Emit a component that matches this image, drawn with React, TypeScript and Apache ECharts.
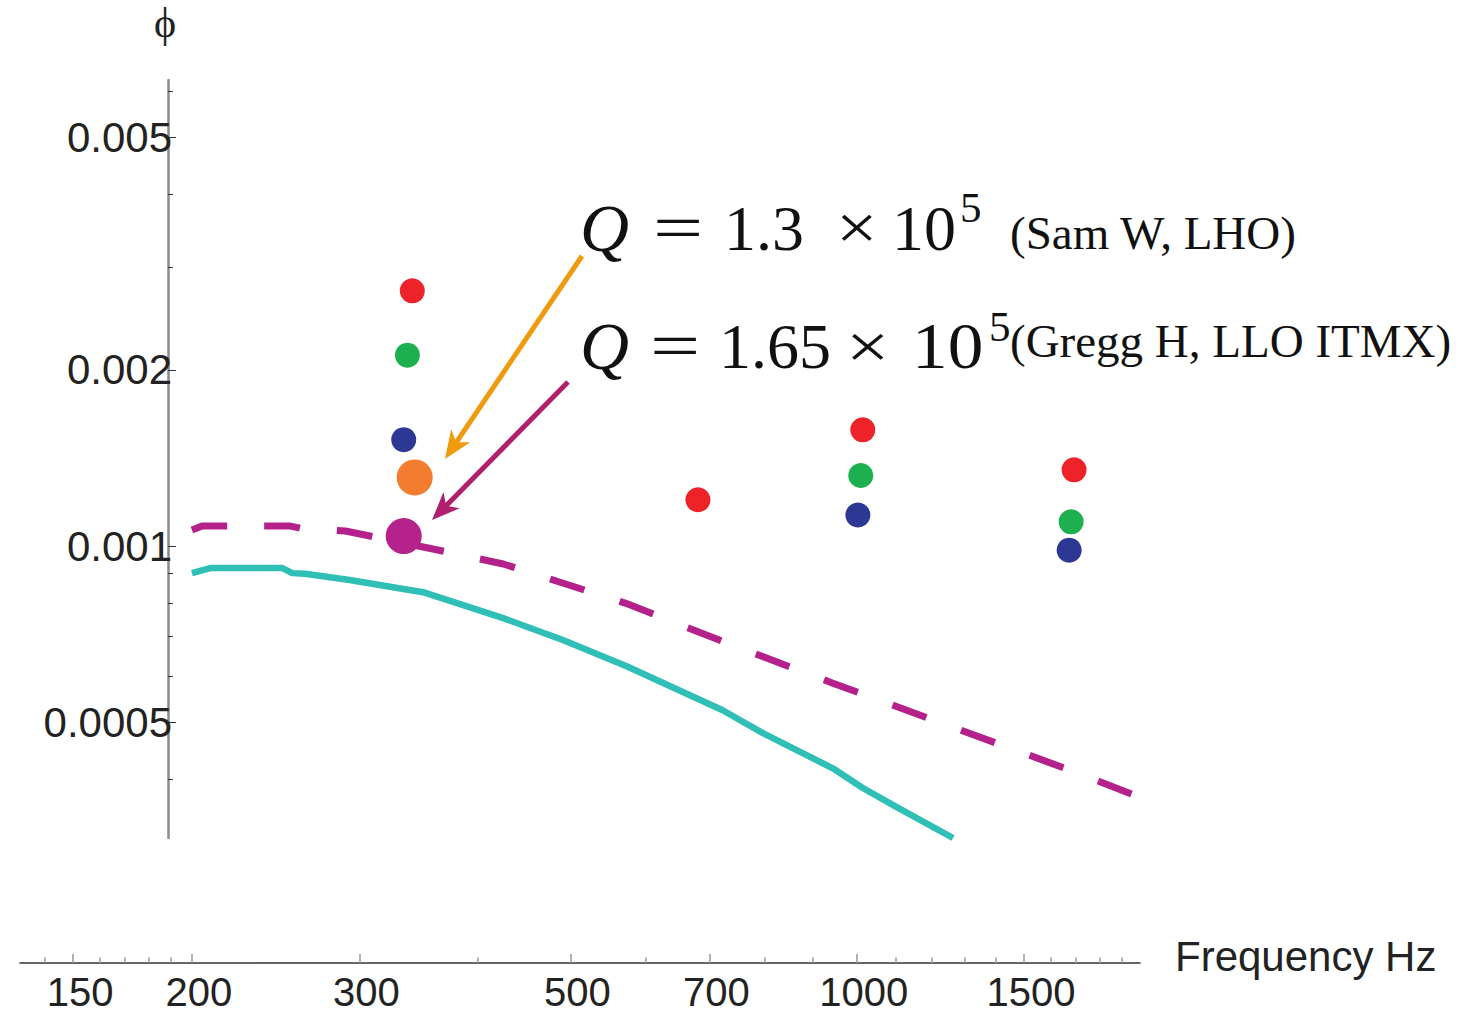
import React, { useEffect, useRef } from "react";
import * as echarts from "echarts";

// ---- data (raw units: Hz, loss angle phi) ----
const solidFreq = [200, 209, 249, 255, 263, 293, 350, 425, 491, 573, 723, 797, 944, 1015, 1102, 1263];
const solidPhi = [0.000899, 0.000917, 0.000917, 0.000899, 0.000897, 0.000875, 0.000834, 0.000753, 0.000691, 0.000623, 0.000524, 0.000479, 0.000417, 0.000386, 0.000358, 0.000317];

const dashedFreq = [200, 205, 254, 260, 290, 297, 371, 425, 571, 730, 944, 1697, 1986];
const dashedPhi = [0.001065, 0.001082, 0.001082, 0.001073, 0.001061, 0.001053, 0.000977, 0.000932, 0.000799, 0.000683, 0.000583, 0.000411, 0.000372];

const redFreq = [341, 681, 1015, 1693];
const redPhi = [0.00273, 0.0012, 0.00158, 0.00135];
const greenFreq = [337, 1010, 1681];
const greenPhi = [0.00212, 0.00132, 0.0011];
const blueFreq = [334, 1003, 1673];
const bluePhi = [0.00152, 0.00113, 0.000984];
const orangeFreq = [343];
const orangePhi = [0.00131];
const magentaFreq = [334];
const magentaPhi = [0.00104];

// ---- axes ----
const xRange = [131.9, 1986];
const xRangeYAxisAt = 188.8;
const yRange = [0.000317, 0.00626];
const xMajorTicks = [150, 200, 300, 500, 700, 1000, 1500];
const xTickLabels = ["150", "200", "300", "500", "700", "1000", "1500"];
const xMinorTicks = [140, 160, 170, 180, 190, 400, 600, 800, 900, 1100, 1200, 1300, 1400, 1600, 1700, 1800, 1900];
const yMajorTicks = [0.0005, 0.001, 0.002, 0.005];
const yTickLabels = ["0.0005", "0.001", "0.002", "0.005"];
const yMinorTicks = [0.0004, 0.0006, 0.0007, 0.0008, 0.0009, 0.003, 0.004, 0.006];

const L = Math.log10;
const toPts = (xs: number[], ys: number[]) => xs.map((x, i) => [L(x), L(ys[i])]);
const nearestLabel = (v: number, ticks: number[], labels: string[]) => {
  let best = 0;
  let bd = Infinity;
  ticks.forEach((t, i) => {
    const d = Math.abs(L(t) - v);
    if (d < bd) {
      bd = d;
      best = i;
    }
  });
  return labels[best];
};

const SANS = "'Liberation Sans', Arial, Helvetica, sans-serif";
const SERIF = "'Liberation Serif', 'Times New Roman', 'DejaVu Serif', serif";

function arrow(x1: number, y1: number, x2: number, y2: number, color: string) {
  const dx = x2 - x1;
  const dy = y2 - y1;
  const len = Math.hypot(dx, dy);
  const ux = dx / len;
  const uy = dy / len;
  const nx = -uy;
  const ny = ux;
  const headLen = 28;
  const half = 11.5;
  const bx = x2 - ux * headLen;
  const by = y2 - uy * headLen;
  const notchX = x2 - ux * headLen * 0.72;
  const notchY = y2 - uy * headLen * 0.72;
  return [
    {
      type: "line",
      z: 100,
      silent: true,
      shape: { x1, y1, x2: notchX, y2: notchY },
      style: { stroke: color, lineWidth: 5 },
    },
    {
      type: "polygon",
      z: 100,
      silent: true,
      shape: {
        points: [
          [x2, y2],
          [bx + nx * half, by + ny * half],
          [notchX, notchY],
          [bx - nx * half, by - ny * half],
        ],
      },
      style: { fill: color },
    },
  ];
}

function txt(x: number, y: number, text: string, size: number, italic = false, scaleX = 1) {
  return {
    type: "text",
    z: 100,
    silent: true,
    x,
    y,
    scaleX,
    style: {
      text,
      fontSize: size,
      fontFamily: SERIF,
      fontStyle: italic ? "italic" : "normal",
      fill: "#111",
      align: "left",
      verticalAlign: "middle",
    },
  };
}

export default function App() {
  const ref = useRef<HTMLDivElement>(null);

  useEffect(() => {
    if (!ref.current) return;
    const chart = echarts.init(ref.current, undefined, { renderer: "svg" });

    const xMin = L(xRange[0]);
    const xMax = L(xRange[1]);
    const yMin = L(yRange[0]);
    const yMax = L(yRange[1]);

    const scatter = (xs: number[], ys: number[], color: string, size: number, z = 5) => ({
      type: "scatter",
      xAxisIndex: 0,
      yAxisIndex: 0,
      data: toPts(xs, ys),
      symbol: "circle",
      symbolSize: size,
      itemStyle: { color, opacity: 1 },
      z,
      silent: true,
    });

    const option: any = {
      animation: false,
      backgroundColor: "#ffffff",
      grid: [
        { left: 20, right: 334, top: 80, bottom: 176 },
        { left: 168, right: 334, top: 80, bottom: 176 },
      ],
      xAxis: [
        {
          gridIndex: 0,
          type: "value",
          min: xMin,
          max: xMax,
          position: "bottom",
          offset: 125,
          axisLine: { show: true, onZero: false, lineStyle: { color: "#333", width: 1.5 } },
          axisTick: {
            show: true,
            inside: true,
            length: 9,
            customValues: xMajorTicks.map(L),
            lineStyle: { color: "#999", width: 1.5 },
          },
          axisLabel: {
            show: true,
            customValues: xMajorTicks.map(L),
            formatter: (v: number) => nearestLabel(v, xMajorTicks, xTickLabels),
            fontSize: 40,
            lineHeight: 32,
            fontFamily: SANS,
            color: "#222",
            margin: 13,
            padding: [0, 0, 0, 14],
          },
          splitLine: { show: false },
          name: "Frequency Hz",
          nameLocation: "end",
          nameGap: 35,
          nameTextStyle: {
            fontSize: 42,
            fontFamily: SANS,
            color: "#222",
            verticalAlign: "bottom",
            lineHeight: 14,
          },
        },
        {
          gridIndex: 0,
          type: "value",
          min: xMin,
          max: xMax,
          position: "bottom",
          offset: 125,
          axisLine: { show: false, onZero: false },
          axisTick: {
            show: true,
            inside: true,
            length: 5.5,
            customValues: xMinorTicks.map(L),
            lineStyle: { color: "#999", width: 1.5 },
          },
          axisLabel: { show: false },
          splitLine: { show: false },
        },
        {
          gridIndex: 1,
          type: "value",
          min: L(xRangeYAxisAt),
          max: xMax,
          show: false,
        },
      ],
      yAxis: [
        {
          gridIndex: 0,
          type: "value",
          min: yMin,
          max: yMax,
          show: false,
        },
        {
          gridIndex: 1,
          type: "value",
          min: yMin,
          max: yMax,
          position: "left",
          axisLine: { show: true, onZero: false, lineStyle: { color: "#8a8a8a", width: 2.5 } },
          axisTick: {
            show: true,
            inside: true,
            length: 8,
            customValues: yMajorTicks.map(L),
            lineStyle: { color: "#333", width: 1 },
          },
          axisLabel: {
            show: true,
            customValues: yMajorTicks.map(L),
            formatter: (v: number) => nearestLabel(v, yMajorTicks, yTickLabels),
            fontSize: 42,
            fontFamily: SANS,
            color: "#222",
            margin: -4,
          },
          splitLine: { show: false },
          name: "ϕ",
          nameLocation: "end",
          nameGap: 36,
          nameTextStyle: { fontSize: 42, fontFamily: SERIF, color: "#222", padding: [0, 6, 0, 0] },
        },
        {
          gridIndex: 1,
          type: "value",
          min: yMin,
          max: yMax,
          position: "left",
          axisLine: { show: false, onZero: false },
          axisTick: {
            show: true,
            inside: true,
            length: 5,
            customValues: yMinorTicks.map(L),
            lineStyle: { color: "#333", width: 1 },
          },
          axisLabel: { show: false },
          splitLine: { show: false },
        },
      ],
      series: [
        {
          type: "line",
          xAxisIndex: 0,
          yAxisIndex: 0,
          data: toPts(solidFreq, solidPhi),
          showSymbol: false,
          symbol: "none",
          lineStyle: { color: "#2FBFB7", width: 6.5, cap: "butt", join: "round" },
          z: 2,
          silent: true,
        },
        {
          type: "line",
          xAxisIndex: 0,
          yAxisIndex: 0,
          data: toPts(dashedFreq, dashedPhi),
          showSymbol: false,
          symbol: "none",
          lineStyle: { color: "#B5218B", width: 7, type: [36, 37], cap: "butt", join: "round" },
          z: 3,
          silent: true,
        },
        scatter(redFreq, redPhi, "#EE2229", 25),
        scatter(greenFreq, greenPhi, "#1CB14E", 25),
        scatter(blueFreq, bluePhi, "#2D3794", 25),
        scatter(orangeFreq, orangePhi, "#F47C2F", 36, 6),
        scatter(magentaFreq, magentaPhi, "#B6228C", 36, 6),
      ],
      graphic: [
        ...arrow(582, 256, 445, 459, "#F09A0E"),
        ...arrow(568, 382, 432, 520, "#B0206C"),
        txt(580, 228, "Q", 68, true),
        txt(653, 228, "=", 66, false, 1.35),
        txt(724, 228, "1.3", 64),
        txt(836, 228, "×", 64, false, 1.15),
        txt(892, 228, "10", 64),
        txt(960, 207, "5", 43),
        txt(1010, 233, "(Sam W, LHO)", 47),
        txt(580, 346, "Q", 68, true),
        txt(650, 346, "=", 66, false, 1.35),
        txt(719, 346, "1.65", 64),
        txt(846, 346, "×", 64, false, 1.2),
        txt(912, 346, "10", 66, false, 1.08),
        txt(989, 326, "5", 43),
        txt(1010, 341, "(Gregg H, LLO ITMX)", 47),
      ],
    };

    chart.setOption(option);
    return () => chart.dispose();
  }, []);

  return (
    <div
      ref={ref}
      style={{ position: "absolute", left: 0, top: 0, width: 1474, height: 1014, background: "#fff" }}
    />
  );
}
